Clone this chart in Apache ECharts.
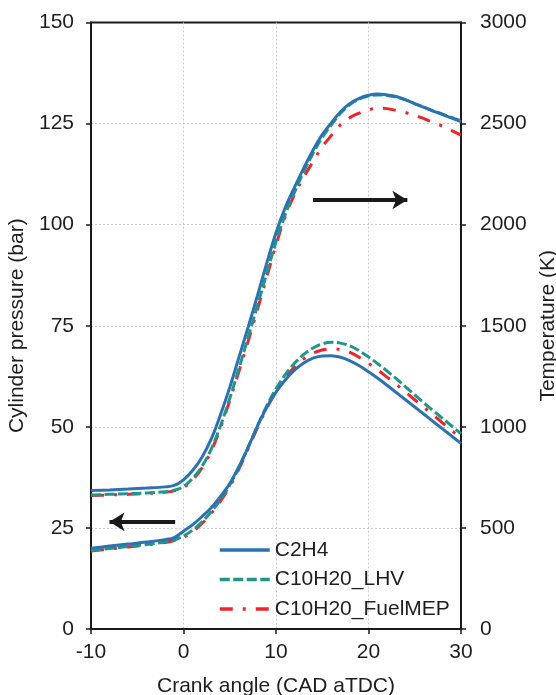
<!DOCTYPE html>
<html>
<head>
<meta charset="utf-8">
<script src="https://cdn.jsdelivr.net/npm/echarts@6/dist/echarts.min.js"></script>
<style>html,body{margin:0;padding:0;background:#fff;}#c{width:556px;height:695px;}</style>
</head>
<body>
<div id="c"></div>
<script>
// Crank angle (CAD aTDC)
const cad = [-10,-8,-6,-4,-2,-1,0,1,2,3,4,5,6,7,8,9,10,11,12,13,14,15,16,17,18,19,20,21,22,23,24,25,26,27,28,29,30];
// Cylinder pressure (bar)
const pC2H4 = [20.0,20.5,21.0,21.5,22.1,22.6,24.2,25.8,27.8,30.0,32.8,36.0,40.2,45.0,50.2,54.8,58.6,61.6,64.0,65.8,67.0,67.5,67.6,67.2,66.3,65.1,63.6,62.0,60.3,58.5,56.7,54.9,53.1,51.3,49.5,47.7,45.9];
const pLHV = [19.4,19.9,20.4,20.9,21.5,22.0,23.0,24.5,26.5,29.0,32.0,35.6,40.0,45.0,50.3,55.2,59.4,62.9,65.7,67.9,69.5,70.5,70.9,70.7,70.0,68.8,67.3,65.6,63.8,61.9,59.9,57.9,55.9,54.0,52.1,50.2,48.3];
const pMEP = [19.3,19.8,20.3,20.8,21.4,21.9,22.7,24.1,26.1,28.6,31.6,35.2,39.6,44.6,49.8,54.6,58.7,62.1,64.8,66.8,68.2,69.0,69.3,69.1,68.4,67.2,65.7,64.1,62.3,60.5,58.6,56.7,54.8,52.9,51.0,49.1,47.2];
// Temperature (K)
const tC2H4 = [685,688,692,697,703,710,738,785,850,940,1060,1195,1345,1495,1650,1810,1960,2085,2185,2280,2368,2445,2505,2560,2600,2625,2640,2646,2642,2634,2618,2598,2580,2562,2545,2527,2510];
const tLHV = [663,666,669,673,679,686,705,745,805,890,1005,1140,1290,1445,1600,1760,1915,2050,2160,2262,2352,2432,2495,2552,2594,2621,2636,2642,2639,2631,2617,2599,2581,2563,2547,2530,2514];
const tMEP = [660,663,666,670,676,683,700,738,797,880,995,1130,1275,1425,1580,1740,1900,2040,2150,2235,2312,2385,2442,2495,2530,2552,2568,2576,2574,2565,2555,2540,2525,2505,2487,2465,2443];
// Series names
const names = ['C2H4','C10H20_LHV','C10H20_FuelMEP'];
// Axis ticks
const xTicks = [-10,0,10,20,30];
const pTicks = [0,25,50,75,100,125,150];
const tTicks = [0,500,1000,1500,2000,2500,3000];
// Arrow annotations [cad, value]
const arrowT = [[14.0,2122],[24.2,2122]];
const arrowP = [[-0.9,26.5],[-8.0,26.5]];

const colors = ['#2C72AE','#21958A','#F2222B'];
const lineTypes = ['solid',[10,3.5],[13,10,3,10]];
const font = 'Liberation Sans, Arial, Helvetica, sans-serif';
const txt = '#1e1e1e';

function pairs(y){ return cad.map((c,i)=>[c,y[i]]); }

const pressure = [pC2H4,pLHV,pMEP];
const temperature = [tC2H4,tLHV,tMEP];
const series = [];
function mk(name, i, data, yIdx){
  return {
    name: name, type: 'line', data: pairs(data), yAxisIndex: yIdx,
    smooth: 0.35, symbol: 'none', showSymbol: false,
    lineStyle: {color: colors[i], width: 3, type: lineTypes[i], cap: 'butt'},
    itemStyle: {color: colors[i]},
    z: 10 - i, silent: true
  };
}
for (let i = 2; i >= 0; i--) {
  series.push(mk(names[i], i, pressure[i], 0));
  series.push(mk(names[i], i, temperature[i], 1));
}
// arrows
const arrowStyle = {color:'#1a1a1a', width: 4, type:'solid'};
series.push({
  type:'line', data: [], yAxisIndex: 1, silent: true,
  markLine: {silent:true, symbol:['none','arrow'], symbolSize:[14,15], label:{show:false},
    lineStyle: arrowStyle, emphasis:{disabled:true},
    data:[[{coord: arrowT[0]},{coord: arrowT[1]}]]}
});
series.push({
  type:'line', data: [], yAxisIndex: 0, silent: true,
  markLine: {silent:true, symbol:['none','arrow'], symbolSize:[14,15], label:{show:false},
    lineStyle: arrowStyle, emphasis:{disabled:true},
    data:[[{coord: arrowP[0]},{coord: arrowP[1]}]]}
});

const axisLine = {show:true, onZero:false, lineStyle:{color:'#1a1a1a', width:2}};
const axisTick = {show:true, inside:false, length:5, lineStyle:{color:'#1a1a1a', width:1.5}};
const labelStyle = {color: txt, fontSize: 21, fontFamily: font};
const split = {show: true, showMinLine: false, showMaxLine: false, lineStyle: {color: '#cccccc', type: [2,2], width: 1}};

const option = {
  animation: false,
  backgroundColor: '#fff',
  grid: {left: 91, right: 95, top: 22.5, bottom: 66, show: true, borderColor: '#1a1a1a', borderWidth: 2,
         backgroundColor: 'transparent', containLabel: false, outerBoundsMode: 'none'},
  legend: {
    data: names, orient: 'vertical', left: 218, top: 539.5, padding: 0,
    itemWidth: 50, itemHeight: 14, itemGap: 8.5,
    itemStyle: {color: 'transparent', borderWidth: 0, opacity: 0},
    lineStyle: {width: 3.5},
    textStyle: {color: txt, fontSize: 21, fontFamily: font, lineHeight: 21},
    selectedMode: false
  },
  xAxis: {
    type: 'value', min: -10, max: 30, interval: 10,
    name: 'Crank angle (CAD aTDC)', nameLocation: 'middle', nameGap: 47,
    nameTextStyle: labelStyle,
    axisLine: axisLine, axisTick: axisTick,
    axisLabel: {...labelStyle, margin: 13, customValues: xTicks, formatter: v => String(v)},
    splitLine: split
  },
  yAxis: [{
    type: 'value', min: 0, max: 150, interval: 25, position: 'left',
    name: 'Cylinder pressure (bar)', nameLocation: 'middle', nameGap: 58,
    nameTextStyle: labelStyle,
    axisLine: axisLine, axisTick: axisTick,
    axisLabel: {...labelStyle, margin: 17, customValues: pTicks, formatter: v => String(v)},
    splitLine: split
  },{
    type: 'value', min: 0, max: 3000, interval: 500, position: 'right',
    name: 'Temperature (K)', nameLocation: 'middle', nameGap: 73,
    nameTextStyle: labelStyle,
    axisLine: axisLine, axisTick: axisTick,
    axisLabel: {...labelStyle, margin: 19, customValues: tTicks, formatter: v => String(v)},
    splitLine: {show: false}
  }],
  series: series
};
const chart = echarts.init(document.getElementById('c'), null, {renderer: 'canvas'});
chart.setOption(option);
</script>
</body>
</html>
